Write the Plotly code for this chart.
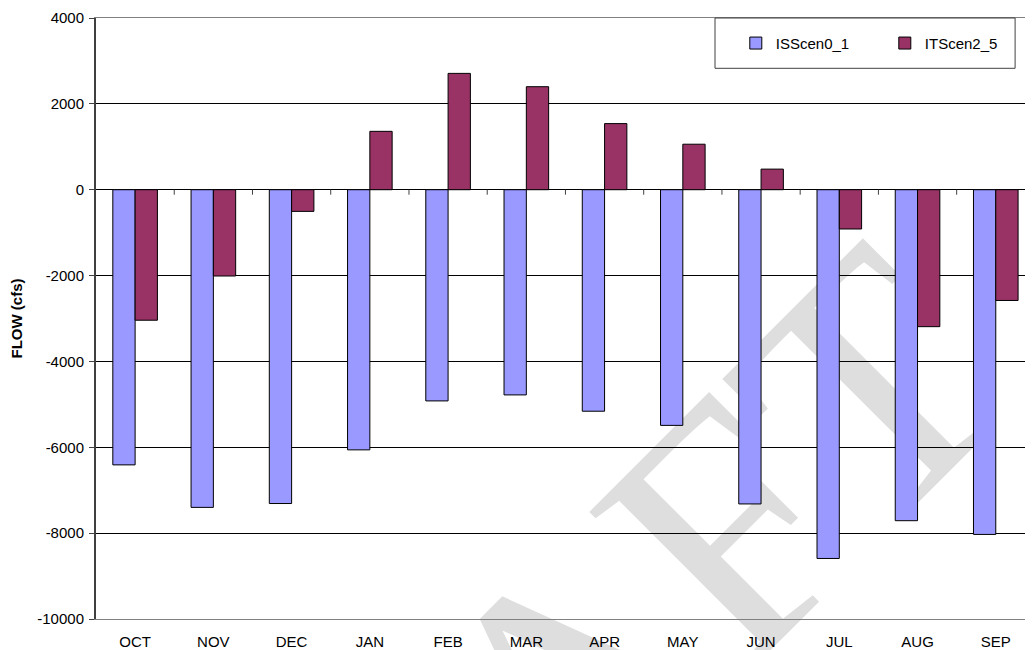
import plotly.graph_objects as go

months = ["OCT", "NOV", "DEC", "JAN", "FEB", "MAR", "APR", "MAY", "JUN", "JUL", "AUG", "SEP"]
isscen0_1 = [-6410, -7400, -7310, -6060, -4920, -4780, -5160, -5490, -7320, -8590, -7710, -8030]
itscen2_5 = [-3040, -2010, -505, 1360, 2710, 2400, 1540, 1060, 480, -915, -3190, -2580]
y_ticks = [4000, 2000, 0, -2000, -4000, -6000, -8000, -10000]

FONT = "Arial, Liberation Sans, sans-serif"

fig = go.Figure()
fig.add_trace(go.Bar(name="ISScen0_1", x=months, y=isscen0_1,
                     marker=dict(color="#9999FF", line=dict(color="#000000", width=1))))
fig.add_trace(go.Bar(name="ITScen2_5", x=months, y=itscen2_5,
                     marker=dict(color="#993366", line=dict(color="#000000", width=1))))

# page body has an 8px margin; work in screen pixels
OFF = 8
FW, FH = 1034 - OFF, 650 - OFF
# plot area in screen pixels: x 96..1034, y 18..619
PL, PR, PT, PB = 96, 1034, 18, 619
W, H = PR - PL, PB - PT

def px(xp):
    return (xp - PL) / W

def py(yp):
    return (PB - yp) / H

shapes = []
# watermark (behind everything)
wx, wy = 522, 685
shapes.append(dict(type="rect", xref="paper", yref="paper",
                   x0=px(wx) - 0.0005, x1=px(wx) + 0.0005,
                   y0=py(wy) - 0.0005, y1=py(wy) + 0.0005,
                   line=dict(width=0), fillcolor="rgba(0,0,0,0)", layer="below",
                   label=dict(text="DRAFT", textangle=-45,
                              font=dict(family="Liberation Serif, Times New Roman, serif",
                                        size=345, color="#dedede"))))
# legend box
shapes.append(dict(type="rect", xref="paper", yref="paper",
                   x0=px(721), x1=px(1024), y0=py(68.3), y1=1,
                   line=dict(color="#404040", width=1), fillcolor="white", layer="above"))
# category boundary ticks on the zero line
for k in range(len(months) - 1):
    shapes.append(dict(type="line", xref="x", yref="y", x0=k + 0.5, x1=k + 0.5,
                       ysizemode="pixel", yanchor=0, y0=0, y1=-5,
                       line=dict(color="#404040", width=1)))

fig.update_layout(
    width=FW, height=FH, autosize=False,
    margin=dict(l=PL - OFF, r=FW - (PR - OFF), t=PT - OFF, b=FH - (PB - OFF)),
    paper_bgcolor="white", plot_bgcolor="white",
    barmode="group", bargap=0.43, bargroupgap=0,
    font=dict(family=FONT, size=15, color="#000000"),
    showlegend=True,
    legend=dict(orientation="h", x=px(742), xanchor="left", y=py(43.3), yanchor="middle",
                bgcolor="rgba(0,0,0,0)", borderwidth=0,
                font=dict(family=FONT, size=15, color="#000000"),
                entrywidth=104, entrywidthmode="pixels"),
    shapes=shapes,
    xaxis=dict(type="category", range=[-0.5, -0.5 + W / 79.0],
               showgrid=False, ticks="", showline=True, linecolor="#808080", linewidth=1,
               mirror=True, tickfont=dict(family=FONT, size=15, color="#000000"),
               ticklabelstandoff=9, zeroline=False),
    yaxis=dict(range=[-10000, 4000], tickvals=y_ticks, ticktext=[str(v) for v in y_ticks],
               showgrid=True, gridcolor="#000000", gridwidth=1,
               zeroline=True, zerolinecolor="#000000", zerolinewidth=1,
               showline=True, linecolor="#404040", linewidth=2,
               ticks="outside", ticklen=5, tickcolor="#404040", tickwidth=1,
               ticklabelstandoff=2,
               tickfont=dict(family=FONT, size=15, color="#000000"),
               title=dict(text="<b>FLOW (cfs)</b>", font=dict(family=FONT, size=15, color="#000000"),
                          standoff=11),
               automargin=False),
)

fig.write_html("out.html")
